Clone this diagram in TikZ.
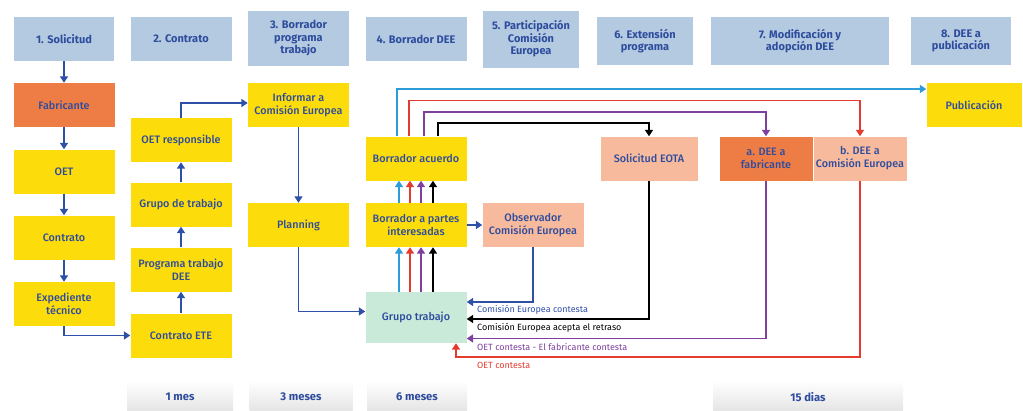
\documentclass[tikz,border=0pt]{standalone}
\usepackage{fontspec}
\setmainfont{Fira Sans}
\newfontfamily\medf{Fira Sans Medium}
\usetikzlibrary{arrows.meta}
\definecolor{ylw}{HTML}{FCDC0A}
\definecolor{org}{HTML}{EE7D45}
\definecolor{sal}{HTML}{F7BA9C}
\definecolor{grn}{HTML}{C9EAD9}
\definecolor{hdr}{HTML}{B4CAE0}
\definecolor{tblue}{HTML}{2E4C9E}
\definecolor{ablue}{HTML}{2D50A8}
\definecolor{lblue}{HTML}{2D9CDB}
\definecolor{lred}{HTML}{E53A2E}
\definecolor{purp}{HTML}{7F3F9E}
\tikzset{
  basebox/.style={inner sep=0pt, align=center, text=tblue, minimum width=101pt, minimum height=44pt, font=\medf\fontsize{10.8}{13}\selectfont},
  ybox/.style={basebox, fill=ylw},
  obox/.style={basebox, fill=org},
  sbox/.style={basebox, fill=sal},
  gbox/.style={basebox, fill=grn},
  hbox/.style={inner sep=0pt, align=center, text=tblue, fill=hdr, minimum height=44pt, font=\bfseries\fontsize{11}{12.5}\selectfont},
  tbox/.style={inner sep=0pt, align=center, text=tblue, minimum height=32pt, top color=white, bottom color=black!11, font=\bfseries\fontsize{11.2}{13}\selectfont},
  arr/.style={line width=1.8pt, -{Triangle[length=6.5pt,width=8pt]}},
  lab/.style={anchor=west, inner sep=0pt, font=\fontsize{9}{10}\selectfont},
}
\begin{document}
\begin{tikzpicture}[x=1pt,y=-1pt]
\useasboundingbox (0,0) rectangle (1023,410);
% headers
\node[hbox, minimum width=100pt] (h1) at (64,39) {1. Solicitud};
\node[hbox, minimum width=101pt] (h2) at (181,39) {2. Contrato};
\node[hbox, minimum width=101pt, minimum height=55pt] (h3) at (298.5,38.5) {3. Borrador\\programa\\trabajo};
\node[hbox, minimum width=101pt] (h4) at (416,39) {4. Borrador DEE};
\node[hbox, minimum width=96pt, minimum height=57pt] (h5) at (531,39) {5. Participación\\Comisión\\Europea};
\node[hbox, minimum width=96pt, minimum height=48pt] (h6) at (645,41) {6. Extensión\\programa};
\node[hbox, minimum width=178pt, minimum height=48pt] (h7) at (800,41) {7. Modificación y\\adopción DEE};
\node[hbox, minimum width=100pt, minimum height=48pt] (h8) at (961,41) {8. DEE a\\publicación};
% column 1
\node[obox] (fab) at (64,105) {Fabricante};
\node[ybox] (oet) at (64,171.5) {OET};
\node[ybox] (con) at (64,237.5) {Contrato};
\node[ybox] (exp) at (64,304) {Expediente\\técnico};
% column 2
\node[ybox] (oetr) at (181,140) {OET responsible};
\node[ybox] (gdt) at (181,204.5) {Grupo de trabajo};
\node[ybox] (prog) at (181,269.5) {Programa trabajo\\DEE};
\node[ybox] (cete) at (181,335.5) {Contrato ETE};
% column 3
\node[ybox] (inf) at (298.5,105) {Informar a\\Comisión Europea};
\node[ybox] (plan) at (298.5,225) {Planning};
% column 4
\node[ybox] (acu) at (416,158.5) {Borrador acuerdo};
\node[ybox] (bpar) at (416,225) {Borrador a partes\\interesadas};
\node[gbox, minimum height=51pt] (grp) at (416,317.5) {Grupo trabajo};
\node[sbox] (obs) at (533,225) {Observador\\Comisión Europea};
\node[sbox, minimum width=97pt] (eota) at (649,158.5) {Solicitud EOTA};
\node[obox, minimum width=93pt] (deea) at (766,158.5) {a. DEE a\\fabricante};
\node[sbox, minimum width=93pt] (deeb) at (860,158.5) {b. DEE a\\Comisión Europea};
\node[ybox, minimum width=95pt] (pub) at (974,105) {Publicación};
% time boxes
\node[tbox, minimum width=106pt] (t1) at (180,397) {1 mes};
\node[tbox, minimum width=103pt] (t3) at (301,397) {3 meses};
\node[tbox, minimum width=100pt] (t6) at (417,397) {6 meses};
\node[tbox, minimum width=190pt] (t15) at (808,397) {15 dias};
% main flow arrows
\draw[arr, ablue] (h1) -- (fab);
\draw[arr, ablue] (fab) -- (oet);
\draw[arr, ablue] (oet) -- (con);
\draw[arr, ablue] (con) -- (exp);
\draw[arr, ablue] (exp.south) |- (cete.west);
\draw[arr, ablue] (cete) -- (prog);
\draw[arr, ablue] (prog) -- (gdt);
\draw[arr, ablue] (gdt) -- (oetr);
\draw[arr, ablue] (oetr.north) |- ([yshift=2pt]inf.west);
\draw[arr, ablue] (inf) -- (plan);
\draw[arr, ablue] (plan.south) |- ([yshift=6pt]grp.west);
\draw[arr, ablue] (bpar) -- (obs);
% x coordinates
\coordinate (xa1) at (399,0);
\coordinate (xa2) at (410,0);
\coordinate (xa3) at (421,0);
\coordinate (xa4) at (433,0);
\coordinate (xb1) at (397,0);
\coordinate (xb2) at (409,0);
\coordinate (xb3) at (424,0);
\coordinate (xb4) at (438,0);
\coordinate (ly1) at (0,89);
\coordinate (ly2) at (0,100.5);
\coordinate (ly3) at (0,112);
\coordinate (ly4) at (0,123);
\coordinate (lr) at (456,357);
% four coloured arrows
\draw[arr, lblue] (grp.north -| xa1) -- (bpar.south -| xa1);
\draw[arr, lred] (grp.north -| xa2) -- (bpar.south -| xa2);
\draw[arr, purp] (grp.north -| xa3) -- (bpar.south -| xa3);
\draw[arr, black] (grp.north -| xa4) -- (bpar.south -| xa4);
\draw[arr, lblue] (bpar.north -| xa1) -- (acu.south -| xa1);
\draw[arr, lred] (bpar.north -| xa2) -- (acu.south -| xa2);
\draw[arr, purp] (bpar.north -| xa3) -- (acu.south -| xa3);
\draw[arr, black] (bpar.north -| xa4) -- (acu.south -| xa4);
% lines from Borrador acuerdo
\draw[arr, lblue] (acu.north -| xb1) -- (xb1 |- ly1) -- (pub.west |- ly1);
\draw[arr, lred] (acu.north -| xb2) -- (xb2 |- ly2) -| (deeb.north);
\draw[arr, purp] (acu.north -| xb3) -- (xb3 |- ly3) -| (deea.north);
\draw[arr, black] (acu.north -| xb4) -- (xb4 |- ly4) -| (eota.north);
% return lines
\draw[arr, ablue] (obs.south) |- ([yshift=15.5pt]grp.east);
\draw[arr, black] (eota.south) |- ([yshift=-1.5pt]grp.east);
\draw[arr, purp] (deea.south) |- ([yshift=-21pt]grp.east);
\draw[arr, lred] (deeb.south) |- (lr) -- (grp.south -| lr);
% labels
\node[lab, text=ablue] (l1) at (477,309.5) {Comisión Europea contesta};
\node[lab, text=black] (l2) at (477,327.5) {Comisión Europea acepta el retraso};
\node[lab, text=purp] (l3) at (477,347) {OET contesta - El fabricante contesta};
\node[lab, text=lred] (l4) at (477,365.5) {OET contesta};
\end{tikzpicture}
\end{document}
